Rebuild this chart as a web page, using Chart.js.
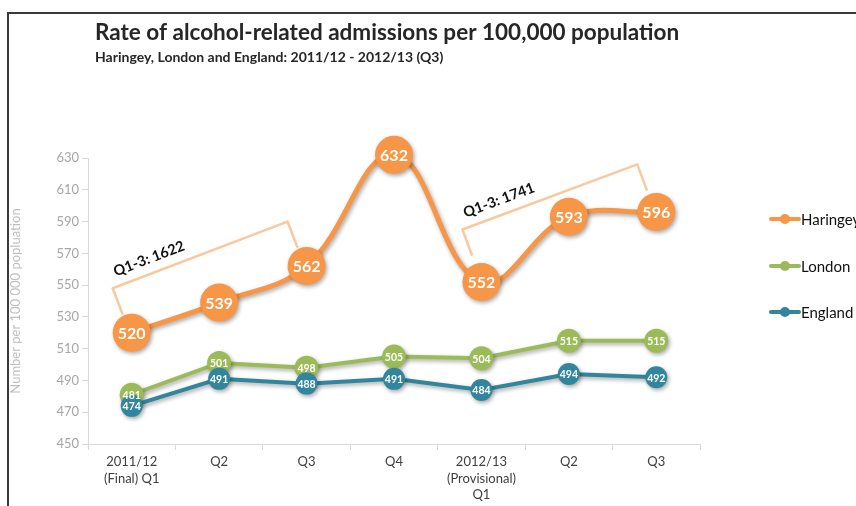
<!DOCTYPE html>
<html>
<head>
<meta charset="utf-8">
<script src="https://cdn.jsdelivr.net/npm/chart.js@4.4.1/dist/chart.umd.min.js"></script>
<style>
  html, body { margin: 0; padding: 0; background: #fff; }
</style>
</head>
<body>
<canvas id="alcoholChart" width="856" height="506"></canvas>
<script>
// Chart data
const categories = [['2011/12', '(Final) Q1'], 'Q2', 'Q3', 'Q4', ['2012/13', '(Provisional)', 'Q1'], 'Q2', 'Q3'];
const haringey = [520, 539, 562, 632, 552, 593, 596];
const london = [481, 501, 498, 505, 504, 515, 515];
const england = [474, 491, 488, 491, 484, 494, 492];
const yMin = 450;
const yMax = 630;
const yStep = 20;

// Q1-3 totals, drawn as brackets over the Haringey points
const bracketFrom = [0, 4];
const bracketTo = [2, 6];
const bracketStartValue = [548, 585];
const bracketEndValue = [590, 626];
const bracketLabels = ['Q1-3: 1622', 'Q1-3: 1741'];

const FONT = 'Lato, "Open Sans", sans-serif';
const ORANGE = '#f79646';
const GREEN = '#9bbb59';
const TEAL = '#31859c';

// White frame with the dark border round it, plus the titles
const framePlugin = {
    id: 'frame',
    beforeDraw(chart) {
        const c = chart.ctx;
        c.save();
        c.fillStyle = '#fff';
        c.fillRect(0, 0, chart.width, chart.height);
        c.strokeStyle = '#3a3a3a';
        c.lineWidth = 2;
        c.beginPath();
        c.moveTo(8, chart.height);
        c.lineTo(8, 13);
        c.lineTo(chart.width, 13);
        c.stroke();

        c.fillStyle = '#262626';
        c.textBaseline = 'middle';
        c.font = 'bold 22.5px ' + FONT;
        c.fillText('Rate of alcohol-related admissions per 100,000 population', 95, 33);
        c.font = 'bold 14px ' + FONT;
        c.fillText('Haringey, London and England: 2011/12 - 2012/13 (Q3)', 95, 57);
        c.restore();
    }
};

// Drop shadow under the lines and markers
const shadowPlugin = {
    id: 'shadow',
    beforeDatasetDraw(chart) {
        const c = chart.ctx;
        c.save();
        c.shadowColor = 'rgba(0,0,0,0.35)';
        c.shadowBlur = 4;
        c.shadowOffsetX = 1.5;
        c.shadowOffsetY = 2;
    },
    afterDatasetDraw(chart) {
        chart.ctx.restore();
    }
};

// Values written inside the markers, then the brackets and the legend
const overlayPlugin = {
    id: 'overlay',
    afterDatasetsDraw(chart) {
        const c = chart.ctx;
        const x = chart.scales.x;
        const y = chart.scales.y;
        c.save();

        // brackets
        bracketLabels.forEach((label, i) => {
            const x1 = x.getPixelForValue(bracketFrom[i]) - 19;
            const y1 = y.getPixelForValue(bracketStartValue[i]);
            const x2 = x.getPixelForValue(bracketTo[i]) - 19;
            const y2 = y.getPixelForValue(bracketEndValue[i]);
            const ang = Math.atan2(y2 - y1, x2 - x1);
            const len = Math.hypot(x2 - x1, y2 - y1);
            c.save();
            c.translate(x1, y1);
            c.rotate(ang);
            c.strokeStyle = '#f8c9a0';
            c.lineWidth = 2.5;
            c.lineJoin = 'round';
            c.beginPath();
            c.moveTo(0, 28);
            c.lineTo(0, 0);
            c.lineTo(len, 0);
            c.lineTo(len, 28);
            c.stroke();
            c.fillStyle = '#111';
            c.font = 'bold 14.5px ' + FONT;
            c.textBaseline = 'alphabetic';
            c.textAlign = 'left';
            c.fillText(label, 7, -10);
            c.restore();
        });

        // point labels
        c.fillStyle = '#fff';
        c.textAlign = 'center';
        c.textBaseline = 'middle';
        chart.data.datasets.forEach((ds, i) => {
            const meta = chart.getDatasetMeta(i);
            c.font = ds.labelFont;
            meta.data.forEach((pt, j) => {
                c.fillText(String(ds.data[j]), pt.x, pt.y + 1);
            });
        });

        // legend
        const legendY = [219, 266, 312];
        c.textAlign = 'left';
        c.font = '15px ' + FONT;
        chart.data.datasets.forEach((ds, i) => {
            const ly = legendY[i];
            c.strokeStyle = ds.borderColor;
            c.fillStyle = ds.borderColor;
            c.lineWidth = 4;
            c.lineCap = 'round';
            c.beginPath();
            c.moveTo(771, ly);
            c.lineTo(799, ly);
            c.stroke();
            c.beginPath();
            c.arc(785, ly, 5, 0, Math.PI * 2);
            c.fill();
            c.fillStyle = '#111';
            c.fillText(ds.label, 801, ly + 1);
        });
        c.restore();
    }
};

function initAdmissionsChart() {
    const ctx = document.getElementById('alcoholChart');

    const makeDataset = (label, data, color, opts) => Object.assign({
        label: label,
        data: data,
        borderColor: color,
        backgroundColor: color,
        pointBackgroundColor: color,
        pointBorderColor: color,
        pointBorderWidth: 0,
        clip: false,
        tension: 0
    }, opts);

    return new Chart(ctx, {
        type: 'line',
        data: {
            labels: categories,
            datasets: [
                makeDataset('Haringey', haringey, ORANGE, {
                    borderWidth: 5, pointRadius: 19, tension: 0.4, order: 2,
                    labelFont: 'bold 16px ' + FONT
                }),
                makeDataset('London', london, GREEN, {
                    borderWidth: 4, pointRadius: 12, order: 1,
                    labelFont: 'bold 10.5px ' + FONT
                }),
                makeDataset('England', england, TEAL, {
                    borderWidth: 4, pointRadius: 11, order: 0,
                    labelFont: 'bold 10.5px ' + FONT
                })
            ]
        },
        options: {
            responsive: false,
            animation: false,
            events: [],
            layout: {
                padding: { left: 8, top: 158, right: 156, bottom: 0 }
            },
            plugins: {
                legend: { display: false },
                tooltip: { enabled: false }
            },
            scales: {
                x: {
                    offset: true,
                    afterFit: (scale) => { scale.height = 62; },
                    grid: {
                        offset: true,
                        drawOnChartArea: false,
                        tickLength: 6,
                        color: '#d9d9d9'
                    },
                    border: { color: '#d9d9d9', width: 1 },
                    ticks: {
                        color: '#404040',
                        padding: 4,
                        maxRotation: 0,
                        autoSkip: false,
                        font: { family: FONT, size: 13, lineHeight: 1.25 }
                    }
                },
                y: {
                    min: yMin,
                    max: yMax,
                    afterFit: (scale) => { scale.width = 80; },
                    grid: {
                        drawOnChartArea: false,
                        tickLength: 6,
                        color: '#d9d9d9'
                    },
                    border: { color: '#d9d9d9', width: 1 },
                    ticks: {
                        stepSize: yStep,
                        color: '#a6a6a6',
                        padding: 3,
                        font: { family: FONT, size: 13 }
                    },
                    title: {
                        display: true,
                        text: 'Number per 100 000 popluation',
                        color: '#bfbfbf',
                        padding: { top: 0, bottom: 0 },
                        font: { family: FONT, size: 13 }
                    }
                }
            }
        },
        plugins: [framePlugin, shadowPlugin, overlayPlugin]
    });
}

initAdmissionsChart();
</script>
</body>
</html>
